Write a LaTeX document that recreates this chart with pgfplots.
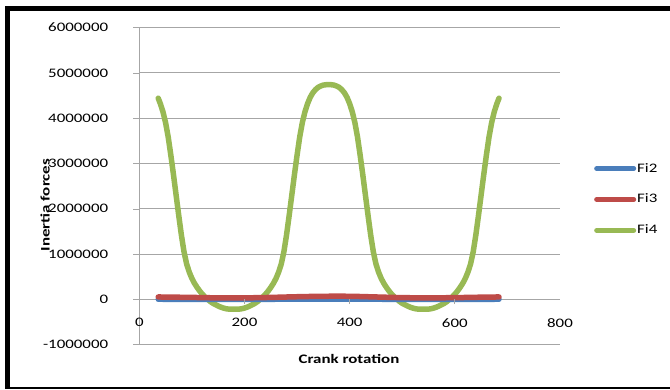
\documentclass[border=0pt]{standalone}
\usepackage{fontspec}
\setmainfont{Carlito}[FakeStretch=1.3]
\usepackage{pgfplots}
\pgfplotsset{compat=1.18}
\definecolor{fiblue}{HTML}{4A7EBB}
\definecolor{fired}{HTML}{BE4B48}
\definecolor{figreen}{HTML}{98B954}
\definecolor{gridgray}{HTML}{A6A6A6}
\begin{document}
\fontsize{13}{15}\selectfont
\begin{tikzpicture}
\useasboundingbox (0pt,0pt) rectangle (670pt,389pt);
\fill[black] (5pt,0pt) rectangle (10pt,383pt);
\fill[black] (5pt,378pt) rectangle (670pt,383pt);
\fill[black] (5pt,0pt) rectangle (670pt,2pt);
\begin{axis}[
  at={(139.3pt,44.5pt)}, anchor=south west,
  scale only axis, width=420.7pt, height=316.9pt,
  xmin=0, xmax=800, ymin=-1000000, ymax=6000000,
  xtick={0,200,400,600,800},
  xticklabels={0,200,400,600,800},
  ytick={-1000000,0,1000000,2000000,3000000,4000000,5000000,6000000},
  yticklabels={-1000000,0,1000000,2000000,3000000,4000000,5000000,6000000},
  scaled y ticks=false,
  axis x line*=bottom, axis y line*=left,
  axis line style={draw=gridgray, -},
  x tick style={draw=none},
  y tick style={draw=gridgray},
  tick align=outside, major tick length=6pt,
  ymajorgrids, grid style={draw=gridgray, line width=0.8pt},
  x tick label style={anchor=north, yshift=36.8pt},
  y tick label style={anchor=east, xshift=-20.6pt},
  xlabel={\bfseries Crank rotation},
  ylabel={\bfseries Inertia forces},
  xlabel style={at={(axis description cs:0.4985,-0.0467)}, anchor=center},
  ylabel style={at={(axis description cs:-0.2241,0.440)}, anchor=center, rotate=0},
  legend cell align=left,
  legend style={at={(axis description cs:1.0808,0.4576)}, anchor=west, draw=none, fill=none,
    inner sep=0pt, row sep=18pt, nodes={inner sep=1pt}},
  legend image code/.code={\draw[#1, line width=5pt, line cap=round] (0pt,0pt) -- (37pt,0pt);},
]
\addplot[figreen, line width=5.5pt, line cap=round, line join=round, forget plot] coordinates {
(36,4440000) (40,4320000) (45,4140000) (50,3900000) (55,3580000) (60,3180000)
(65,2750000) (70,2300000) (75,1850000) (80,1420000) (85,1050000) (90,780000)
(95,600000) (100,460000) (105,350000) (110,260000) (115,180000) (120,110000)
(125,50000) (130,0) (135,-50000) (140,-90000) (145,-120000) (150,-150000)
(155,-175000) (160,-195000) (165,-210000) (170,-218000) (175,-220000) (180,-220000)
(185,-220000) (190,-218000) (195,-210000) (200,-195000) (205,-175000) (210,-150000)
(215,-120000) (220,-90000) (225,-50000) (230,0) (235,50000) (240,110000)
(245,180000) (250,260000) (255,350000) (260,460000) (265,600000) (270,780000)
(275,1050000) (280,1420000) (285,1850000) (290,2300000) (295,2750000) (300,3180000)
(305,3580000) (310,3900000) (315,4140000) (320,4320000) (325,4460000) (330,4560000)
(335,4630000) (340,4680000) (345,4710000) (350,4730000) (355,4738000) (360,4740000)
(365,4738000) (370,4730000) (375,4710000) (380,4680000) (385,4630000) (390,4560000)
(395,4460000) (400,4320000) (405,4140000) (410,3900000) (415,3580000) (420,3180000)
(425,2750000) (430,2300000) (435,1850000) (440,1420000) (445,1050000) (450,780000)
(455,600000) (460,460000) (465,350000) (470,260000) (475,180000) (480,110000)
(485,50000) (490,0) (495,-50000) (500,-90000) (505,-120000) (510,-150000)
(515,-175000) (520,-195000) (525,-210000) (530,-218000) (535,-220000) (540,-220000)
(545,-220000) (550,-218000) (555,-210000) (560,-195000) (565,-175000) (570,-150000)
(575,-120000) (580,-90000) (585,-50000) (590,0) (595,50000) (600,110000)
(605,180000) (610,260000) (615,350000) (620,460000) (625,600000) (630,780000)
(635,1050000) (640,1420000) (645,1850000) (650,2300000) (655,2750000) (660,3180000)
(665,3580000) (670,3900000) (675,4140000) (680,4320000) (684,4440000)
};
\addplot[fiblue, line width=5.5pt, line cap=round, smooth] coordinates {
(36,0) (180,-5000) (360,5000) (540,-5000) (684,0)
};
\addlegendentry{Fi2}
\addplot[fired, line width=5.5pt, line cap=round, smooth] coordinates {
(36,50000) (100,40000) (150,30000) (200,30000) (250,40000) (300,55000) (350,65000)
(400,65000) (450,50000) (500,35000) (550,30000) (600,35000) (650,45000) (684,50000)
};
\addlegendentry{Fi3}
\addlegendimage{figreen}
\addlegendentry{Fi4}
\draw[gridgray, line width=0.8pt] ([yshift=-5pt]axis cs:200,0) -- (axis cs:200,0);
\draw[gridgray, line width=0.8pt] ([yshift=-5pt]axis cs:400,0) -- (axis cs:400,0);
\draw[gridgray, line width=0.8pt] ([yshift=-5pt]axis cs:600,0) -- (axis cs:600,0);
\draw[gridgray, line width=0.8pt] ([yshift=-5pt]axis cs:800,0) -- (axis cs:800,0);
\end{axis}
\end{tikzpicture}
\end{document}
